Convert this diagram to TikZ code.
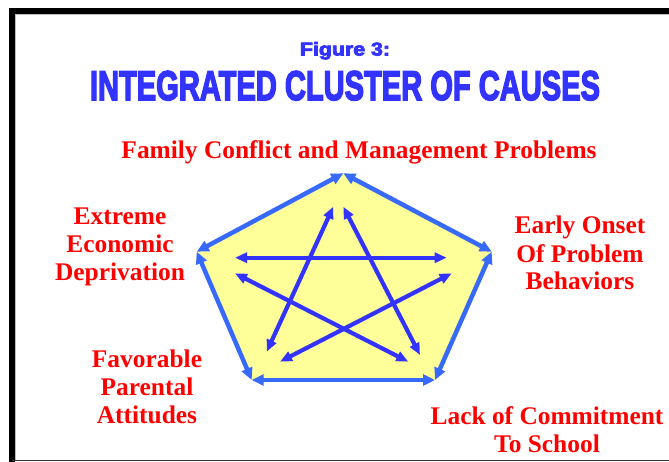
\documentclass[tikz,border=0pt]{standalone}
\usepackage{fontspec}
\setmainfont{Liberation Serif}
\newfontfamily\headfont[FakeBold=4]{Liberation Sans Bold}
\usetikzlibrary{arrows.meta}
\definecolor{headblue}{RGB}{51,51,255}
\definecolor{sideblue}{RGB}{55,105,250}
\definecolor{starblue}{RGB}{51,51,255}
\definecolor{padyellow}{RGB}{255,255,153}
\definecolor{causered}{RGB}{255,0,0}
\begin{document}
\begin{tikzpicture}[x=1pt,y=-1pt,
    cause/.style={text=causered,font=\fontsize{25.4}{28}\selectfont\bfseries,
      align=center,anchor=base,inner sep=0pt},
    side/.style={draw=sideblue,line width=4.5pt,
      arrows={Triangle[length=12pt,width=11pt]-Triangle[length=12pt,width=11pt]}},
    link/.style={draw=starblue,line width=4.2pt,
      arrows={Triangle[length=12pt,width=10pt]-Triangle[length=12pt,width=10pt]}}]
  \useasboundingbox (0,0) rectangle (669,462);
  % frame
  \draw[gray!50,line width=1pt] (15.5,460) -- (15.5,14.5) -- (669,14.5);
  \draw[line width=6pt] (12,462) -- (12,11) -- (669,11);
  \draw[black!80,line width=1.5pt] (12,460.5) -- (669,460.5);
  % headings
  \node (fig) at (345,55.5) [anchor=base,inner sep=0pt,text=headblue]
    {\resizebox{90pt}{13.5pt}{\headfont Figure 3:}};
  \node (title) at (345,100) [anchor=base,inner sep=0pt,text=headblue]
    {\resizebox{510pt}{29pt}{\headfont INTEGRATED CLUSTER OF CAUSES}};
  % causes (base = last line)
  \node[cause] (family) at (359,159) {Family Conflict and Management Problems};
  \node[cause] (onset) at (580,290) {Early Onset\\Of Problem\\Behaviors};
  \node[cause] (school) at (547,452) {Lack of Commitment\\To School};
  \node[cause] (parent) at (147,423) {Favorable\\Parental\\Attitudes};
  \node[cause] (poor) at (120,280) {Extreme\\Economic\\Deprivation};
  % pentagon corners
  \coordinate (t) at (343.3,173.3);
  \coordinate (r) at (491.7,251.7);
  \coordinate (br) at (435,380);
  \coordinate (bl) at (251.7,380);
  \coordinate (l) at (196.7,251.7);
  \fill[padyellow] (t) -- (r) -- (br) -- (bl) -- (l) -- cycle;
  \draw[side] (t) -- (r);
  \draw[side] (r) -- (br);
  \draw[side] (br) -- (bl);
  \draw[side] (bl) -- (l);
  \draw[side] (l) -- (t);
  % star ends
  \coordinate (a1) at (235,257.7);
  \coordinate (a2) at (446.7,257.7);
  \coordinate (b1) at (235,273.3);
  \coordinate (b2) at (408.3,361.7);
  \coordinate (c1) at (451.7,273.3);
  \coordinate (c2) at (280,361.7);
  \coordinate (d1) at (333.3,206.7);
  \coordinate (d2) at (266.7,351.7);
  \coordinate (e1) at (343.3,206.7);
  \coordinate (e2) at (420,355);
  \draw[link] (a1) -- (a2);
  \draw[link] (b1) -- (b2);
  \draw[link] (c1) -- (c2);
  \draw[link] (d1) -- (d2);
  \draw[link] (e1) -- (e2);
\end{tikzpicture}
\end{document}
